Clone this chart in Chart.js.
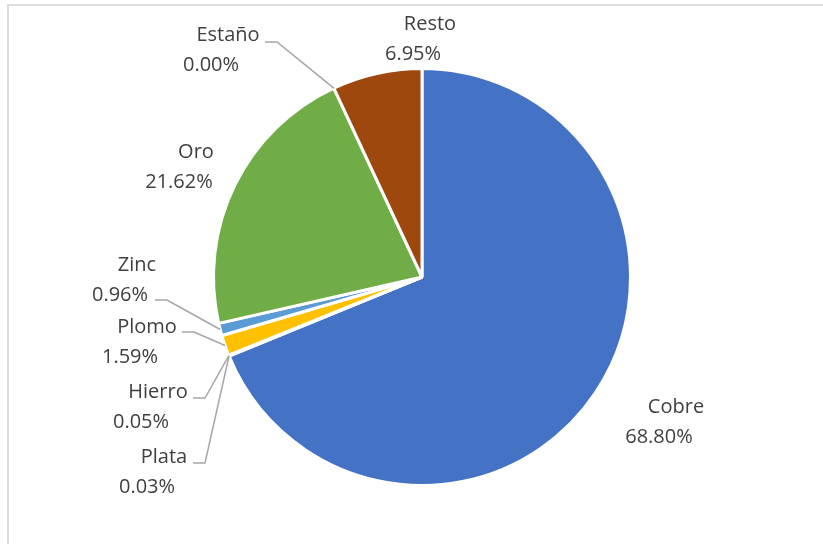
<!DOCTYPE html>
<html>
<head>
<meta charset="utf-8">
<script src="https://cdn.jsdelivr.net/npm/chart.js@4/dist/chart.umd.min.js"></script>
<style>
  body { margin: 0; background: #fff; }
  #wrap { width: 823px; height: 544px; }
</style>
</head>
<body>
<div id="wrap"><canvas id="pieChart" width="823" height="544"></canvas></div>
<script>
// Chart data
const categories = ['Cobre', 'Plata', 'Hierro', 'Plomo', 'Zinc', 'Oro', 'Estaño', 'Resto'];
const shares = [68.80, 0.03, 0.05, 1.59, 0.96, 21.62, 0.00, 6.95];
const sliceColors = ['#4472C4', '#ED7D31', '#A5A5A5', '#FFC000', '#5B9BD5', '#70AD47', '#264478', '#9E480E'];

// Hand-placed label spots (relative to pie centre): first line centre, optional leader start
const labelSpots = [
    { dx: 254, dy: 130 },
    { dx: -258, dy: 180, lead: [-229, 186] },
    { dx: -264, dy: 115, lead: [-229, 121] },
    { dx: -275, dy: 50, lead: [-240, 55] },
    { dx: -285, dy: -12, lead: [-267, 23] },
    { dx: -226, dy: -125 },
    { dx: -194, dy: -242, lead: [-157, -235] },
    { dx: 8, dy: -253 }
];

// Light grey frame of the chart area (top and left edges show in the picture)
const framePlugin = {
    id: 'frame',
    beforeDraw(chart) {
        const ctx = chart.ctx;
        ctx.save();
        ctx.strokeStyle = '#DCDCDC';
        ctx.lineWidth = 2;
        ctx.beginPath();
        ctx.moveTo(8, 560);
        ctx.lineTo(8, 5);
        ctx.lineTo(840, 5);
        ctx.stroke();
        ctx.restore();
    }
};

// Data labels with leader lines
const labelPlugin = {
    id: 'pieLabels',
    afterDatasetsDraw(chart) {
        const ctx = chart.ctx;
        const arcs = chart.getDatasetMeta(0).data;
        ctx.save();
        ctx.font = '20px "Open Sans", sans-serif';
        ctx.textAlign = 'center';
        ctx.textBaseline = 'middle';
        arcs.forEach((arc, i) => {
            const spot = labelSpots[i];
            const { x, y, startAngle, endAngle, outerRadius } = arc.getProps(['x', 'y', 'startAngle', 'endAngle', 'outerRadius'], true);
            const lx = x + spot.dx;
            const ly = y + spot.dy;

            if (spot.lead) {
                const mid = (startAngle + endAngle) / 2;
                const ex = x + Math.cos(mid) * outerRadius;
                const ey = y + Math.sin(mid) * outerRadius;
                const sx = x + spot.lead[0];
                const sy = y + spot.lead[1];
                ctx.strokeStyle = '#A6A6A6';
                ctx.lineWidth = 1.5;
                ctx.beginPath();
                ctx.moveTo(sx, sy);
                ctx.lineTo(sx + 12, sy);
                ctx.lineTo(ex, ey);
                ctx.stroke();
            }

            ctx.fillStyle = '#404040';
            ctx.fillText(categories[i], lx, ly);
            ctx.fillText(shares[i].toFixed(2) + '%', lx - 17, ly + 30);
        });
        ctx.restore();
    }
};

new Chart(document.getElementById('pieChart'), {
    type: 'pie',
    data: {
        labels: categories,
        datasets: [{
            data: shares,
            backgroundColor: sliceColors,
            borderColor: '#FFFFFF',
            borderWidth: 3
        }]
    },
    options: {
        responsive: false,
        animation: false,
        layout: { padding: { top: 67, bottom: 57, left: 21, right: 0 } },
        plugins: {
            legend: { display: false },
            tooltip: { enabled: false }
        }
    },
    plugins: [framePlugin, labelPlugin]
});
</script>
</body>
</html>
